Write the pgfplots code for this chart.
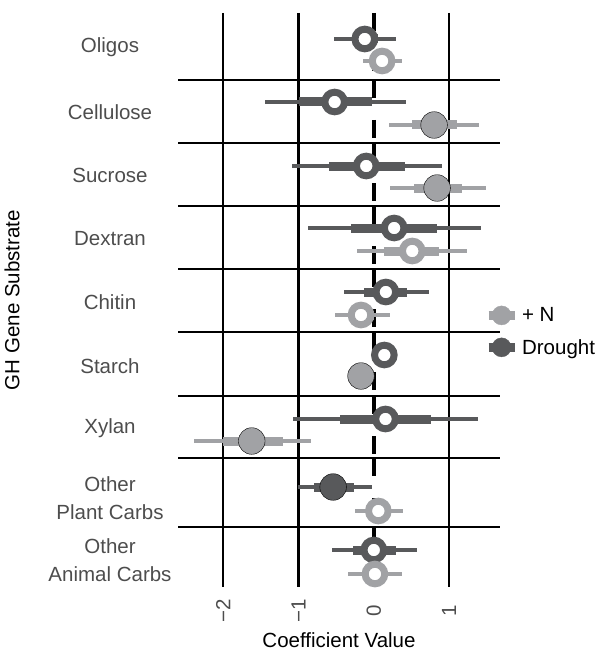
\documentclass[border=0pt]{standalone}
\usepackage{fontspec}
\setmainfont{Liberation Sans}
\usepackage{pgfplots}
\pgfplotsset{compat=1.18}
\usepackage{pgfplotstable}

\definecolor{drt}{RGB}{88,89,91}
\definecolor{nit}{RGB}{161,162,165}
\definecolor{txt}{RGB}{77,77,77}

% y = vertical position (13 = top, 587 = bottom), est = coefficient,
% tlo/thi = inner interval, lo/hi = outer interval, sig = filled point
\pgfplotstableread{
y    est    tlo    thi    lo     hi    sig
39   -0.12  -0.28  0.05   -0.53  0.30  0
102  -0.52  -0.99  -0.03  -1.44  0.43  0
166  -0.10  -0.59  0.41   -1.09  0.91  0
228  0.27   -0.30  0.84   -0.88  1.42  0
292  0.16   -0.13  0.44   -0.40  0.73  0
355  0.14   0.07   0.21   0.02   0.26  0
419  0.155  -0.45  0.76   -1.07  1.38  0
487  -0.54  -0.80  -0.26  -1.01  -0.03 1
550  0.00   -0.27  0.30   -0.55  0.57  0
}\drought

\pgfplotstableread{
y    est    tlo    thi    lo     hi    sig
61   0.11   -0.03  0.25   -0.14  0.37  0
125  0.80   0.51   1.10   0.20   1.40  1
188  0.84   0.54   1.17   0.22   1.49  1
251  0.51   0.14   0.87   -0.22  1.24  0
315  -0.17  -0.33  0.00   -0.51  0.21  0
376  -0.17  -0.23  -0.11  -0.28  -0.06 1
441  -1.62  -2.00  -1.21  -2.38  -0.83 1
511  0.06   -0.10  0.22   -0.25  0.39  0
574  0.015  -0.14  0.17   -0.34  0.37  0
}\nitrogen

\pgfplotsset{
  thinbar/.style={draw=none, mark=none, forget plot,
    error bars/.cd, x dir=both, x explicit, error mark=none,
    error bar style={draw=#1, line width=4.5bp}},
  thickbar/.style={draw=none, mark=none, forget plot,
    error bars/.cd, x dir=both, x explicit, error mark=none,
    error bar style={draw=#1, line width=9bp}},
  openpt/.style={only marks, forget plot, mark=*, mark size=9.8bp,
    mark options={draw=#1, fill=white, line width=7bp}},
  fillpt/.style={only marks, forget plot, mark=*, mark size=13.3bp,
    mark options={draw=none, fill=#1}},
}

\newcommand{\fs}{\fontsize{20.5bp}{28bp}\selectfont}

\begin{document}
\begin{tikzpicture}
\begin{axis}[
  at={(178bp,67bp)}, anchor=south west,
  scale only axis, width=322bp, height=574bp,
  xmin=-2.599, xmax=1.675, ymin=13, ymax=587, y dir=reverse,
  clip=false,
  axis line style={draw=none}, major tick length=0pt,
  xtick={-2,-1,0,1}, xticklabels={−2,−1,0,1},
  xticklabel style={yshift=-24bp, rotate=90, anchor=center, font=\fs, text=txt},
  ytick={47.5,112,175.5,239,302,366,428,498.5,560},
  yticklabels={Oligos,Cellulose,Sucrose,Dextran,Chitin,Starch,Xylan,
    {Other\\Plant Carbs},{Other\\Animal Carbs}},
  yticklabel style={anchor=center, align=center, xshift=-68bp, font=\fs, text=txt},
  xlabel={Coefficient Value},
  xlabel style={at={(axis description cs:0.5,-0.092)}, anchor=center, font=\fs},
  ylabel={GH Gene Substrate},
  ylabel style={at={(axis description cs:-0.5155,0.5)}, anchor=center, font=\fs},
  legend style={at={(axis description cs:0.95,0.445)}, anchor=west,
    draw=none, fill=none, inner sep=0pt, row sep=12bp, column sep=1bp,
    font=\fs},
  legend cell align=left,
]
% grid lines
\draw[black, line width=2.2bp]
  (axis cs:-2,13) -- (axis cs:-2,587)
  (axis cs:-1,13) -- (axis cs:-1,587)
  (axis cs:1,13) -- (axis cs:1,587);
\draw[black, line width=2bp]
  (axis cs:-2.599,80) -- (axis cs:1.675,80)
  (axis cs:-2.599,143) -- (axis cs:1.675,143)
  (axis cs:-2.599,206) -- (axis cs:1.675,206)
  (axis cs:-2.599,269) -- (axis cs:1.675,269)
  (axis cs:-2.599,332) -- (axis cs:1.675,332)
  (axis cs:-2.599,396) -- (axis cs:1.675,396)
  (axis cs:-2.599,458) -- (axis cs:1.675,458)
  (axis cs:-2.599,527) -- (axis cs:1.675,527);
\draw[black, line width=4.5bp, dash pattern=on 18bp off 22bp]
  (axis cs:0,13) -- (axis cs:0,80)
  (axis cs:0,80) -- (axis cs:0,143)
  (axis cs:0,143) -- (axis cs:0,206)
  (axis cs:0,206) -- (axis cs:0,269)
  (axis cs:0,269) -- (axis cs:0,332)
  (axis cs:0,332) -- (axis cs:0,396)
  (axis cs:0,396) -- (axis cs:0,458)
  (axis cs:0,458) -- (axis cs:0,527)
  (axis cs:0,527) -- (axis cs:0,587);

% outer intervals
\addplot[thinbar=drt] table[x=est, y=y,
  x error plus expr=\thisrow{hi}-\thisrow{est},
  x error minus expr=\thisrow{est}-\thisrow{lo}] {\drought};
\addplot[thinbar=nit] table[x=est, y=y,
  x error plus expr=\thisrow{hi}-\thisrow{est},
  x error minus expr=\thisrow{est}-\thisrow{lo}] {\nitrogen};
% inner intervals
\addplot[thickbar=drt] table[x=est, y=y,
  x error plus expr=\thisrow{thi}-\thisrow{est},
  x error minus expr=\thisrow{est}-\thisrow{tlo}] {\drought};
\addplot[thickbar=nit] table[x=est, y=y,
  x error plus expr=\thisrow{thi}-\thisrow{est},
  x error minus expr=\thisrow{est}-\thisrow{tlo}] {\nitrogen};
% points
\addplot[openpt=drt] table[x=est, y=y,
  restrict expr to domain={\thisrow{sig}}{0:0}] {\drought};
\addplot[fillpt=drt] table[x=est, y=y,
  restrict expr to domain={\thisrow{sig}}{1:1}] {\drought};
\addplot[openpt=nit] table[x=est, y=y,
  restrict expr to domain={\thisrow{sig}}{0:0}] {\nitrogen};
\addplot[fillpt=nit] table[x=est, y=y,
  restrict expr to domain={\thisrow{sig}}{1:1}] {\nitrogen};

\addlegendimage{legend image code/.code={
  \draw[nit, line width=9bp] (0bp,0bp) -- (26bp,0bp);
  \fill[nit] (13bp,0bp) circle (9.5bp);}}
\addlegendentry{+ N}
\addlegendimage{legend image code/.code={
  \draw[drt, line width=9bp] (0bp,0bp) -- (26bp,0bp);
  \fill[drt] (13bp,0bp) circle (9.5bp);}}
\addlegendentry{Drought}
\end{axis}
\pgfresetboundingbox
\useasboundingbox (0,0) rectangle (600bp,654bp);
\end{tikzpicture}
\end{document}
